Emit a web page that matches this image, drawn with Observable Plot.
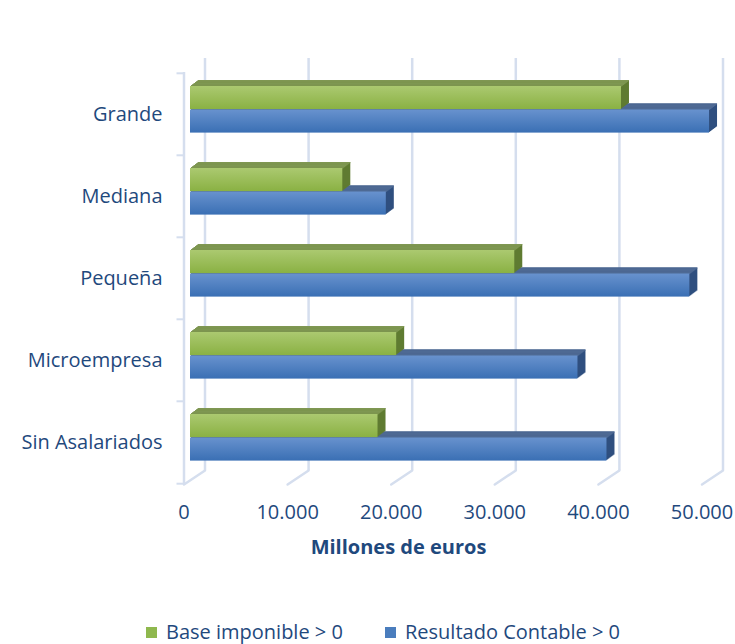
<!DOCTYPE html>
<html>
<head>
<meta charset="utf-8">
<script src="https://cdn.jsdelivr.net/npm/d3@7"></script>
<script src="https://cdn.jsdelivr.net/npm/@observablehq/plot@0.6"></script>
<style>
  body { margin: 0; background: #fff; font-family: "Open Sans", sans-serif; }
  #wrap { position: relative; width: 735px; height: 644px; overflow: hidden; }
  #legend { position: absolute; left: 0; top: 621px; width: 735px; height: 23px; font-size: 20px; line-height: 22px; color: #1f497d; }
  .item { position: absolute; top: 0; display: flex; align-items: center; height: 22px; white-space: nowrap; }
  .sw { width: 11px; height: 11px; margin-right: 9px; }
</style>
</head>
<body>
<div id="wrap">
  <div id="chart"></div>
  <div id="legend"></div>
</div>
<script>
// ---- data ----
const categories = ["Grande", "Mediana", "Pequeña", "Microempresa", "Sin Asalariados"];
const baseImponible = [41600, 14700, 31300, 19900, 18100];        // Base imponible > 0
const resultadoContable = [50100, 18900, 48200, 37400, 40200];    // Resultado Contable > 0
const seriesNames = ["Base imponible > 0", "Resultado Contable > 0"];
const xTicks = [0, 10000, 20000, 30000, 40000, 50000];
const xTickLabels = ["0", "10.000", "20.000", "30.000", "40.000", "50.000"];
const axisTitle = "Millones de euros";

const rows = categories.map((c, i) => ({category: c, base: baseImponible[i], resultado: resultadoContable[i]}));

// ---- styling ----
const W = 735, H = 620;
const mTop = 72, mBottom = 136, mLeft = 190, mRight = 27;
const BW = (H - mTop - mBottom) / categories.length;
const textColor = "#1f497d";
const gridColor = "#d5deee";
const depthX = 8, depthY = 6, steps = 8;

const greenStyle = {grad: "gGreen", top: "#7f9752", side: "#5f7b31", c0: "#abc970", c1: "#8ab143"};
const blueStyle  = {grad: "gBlue",  top: "#4f6a94", side: "#2f4f7f", c0: "#6892ce", c1: "#3a6fb4"};

function bar3d(field, inTop, inBot, st) {
  const marks = [];
  const common = {x: field, y: "category", insetTop: inTop, insetBottom: inBot};
  for (let k = 1; k <= steps; k++) {
    marks.push(Plot.barX(rows, {...common, fill: st.side, dx: k * depthX / steps, dy: -k * depthY / steps}));
  }
  for (let k = 1; k <= steps; k++) {
    marks.push(Plot.barX(rows, {x: field, y: "category", insetTop: inTop, insetBottom: BW - inTop - 1.6,
      fill: st.top, dx: k * depthX / steps, dy: -k * depthY / steps}));
  }
  marks.push(Plot.barX(rows, {...common, fill: `url(#${st.grad})`}));
  return marks;
}

const defsMark = () => {
  const defs = d3.create("svg:defs");
  for (const st of [greenStyle, blueStyle]) {
    const g = defs.append("linearGradient").attr("id", st.grad)
      .attr("x1", 0).attr("y1", 0).attr("x2", 0).attr("y2", 1);
    g.append("stop").attr("offset", "0%").attr("stop-color", st.c0);
    g.append("stop").attr("offset", "100%").attr("stop-color", st.c1);
  }
  return defs.node();
};

const lineShape = {draw(context, l) { context.moveTo(0, 0); context.lineTo(0, -l); }};
const frontShift = -6.5, backShiftX = 14.5, backShiftY = 14;

const chart = Plot.plot({
  width: W, height: H,
  marginTop: mTop, marginBottom: mBottom, marginLeft: mLeft, marginRight: mRight,
  style: {fontFamily: "'Open Sans', sans-serif", fontSize: "20px", background: "#fff"},
  x: {domain: [0, 50000], axis: null},
  y: {domain: categories, type: "band", padding: 0, axis: null},
  marks: [
    defsMark,
    // back-wall gridlines
    Plot.ruleX(xTicks, {x: d => d, dx: backShiftX, insetTop: -backShiftY, insetBottom: backShiftY,
      stroke: gridColor, strokeWidth: 2.5}),
    // floor diagonals
    Plot.vector(xTicks, {x: d => d, frameAnchor: "bottom", anchor: "start",
      length: Math.hypot(backShiftX - frontShift, backShiftY), rotate: Math.atan2(backShiftX - frontShift, backShiftY) * 180 / Math.PI,
      shape: lineShape, dx: frontShift, stroke: gridColor, strokeWidth: 2.5}),
    // left wall line
    Plot.ruleX([0], {dx: frontShift, stroke: gridColor, strokeWidth: 2.5}),
    // category boundary ticks
    Plot.ruleY(categories, {y: d => d, dy: -BW / 2, insetLeft: -13.5, insetRight: (W - mLeft - mRight) + 6.5,
      stroke: gridColor, strokeWidth: 2}),
    Plot.ruleY([categories[categories.length - 1]], {y: d => d, dy: BW / 2, insetLeft: -13.5, insetRight: (W - mLeft - mRight) + 6.5,
      stroke: gridColor, strokeWidth: 2}),
    // bars: blue first (lower), green on top
    ...bar3d("resultado", 36.5, BW - 60, blueStyle),
    ...bar3d("base", 13, BW - 36.5, greenStyle),
    // axes
    Plot.axisX(xTicks, {tickSize: 0, tickPadding: 20, dx: frontShift, fill: textColor, fontSize: 20,
      tickFormat: (d) => xTickLabels[xTicks.indexOf(d)], label: null}),
    Plot.axisY({tickSize: 0, tickPadding: 28, fill: textColor, fontSize: 20, label: null}),
    Plot.text([axisTitle], {frameAnchor: "bottom", dx: -51, dy: 69, fontWeight: "bold", fontSize: 20, fill: textColor})
  ]
});
document.getElementById("chart").appendChild(chart);

// legend
const legend = document.getElementById("legend");
const legendColors = ["#8fb84e", "#4a7dbd"];
const legendLeft = [146, 385];
seriesNames.forEach((name, i) => {
  const it = document.createElement("div");
  it.className = "item";
  it.style.left = legendLeft[i] + "px";
  it.innerHTML = `<span class="sw" style="background:${legendColors[i]}"></span><span>${name}</span>`;
  legend.appendChild(it);
});
</script>
</body>
</html>
